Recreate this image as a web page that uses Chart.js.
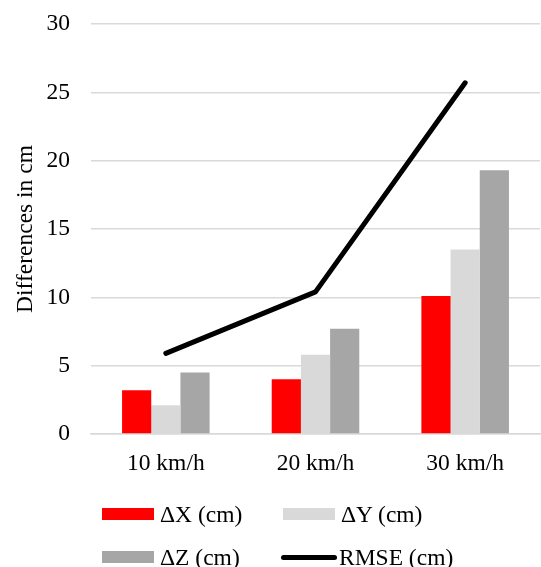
<!DOCTYPE html>
<html>
<head>
<meta charset="utf-8">
<script src="https://cdn.jsdelivr.net/npm/chart.js@4.4.1/dist/chart.umd.min.js"></script>
<style>
  html, body { margin: 0; padding: 0; background: #fff; }
  #wrap { position: relative; width: 541px; height: 567px; overflow: hidden; }
  #chart { position: absolute; left: 0; top: 0; }
  .leg { position: absolute; display: flex; align-items: center; height: 30px;
         font-family: "Liberation Serif", "Times New Roman", serif; font-size: 23.5px; color: #000; white-space: nowrap; }
  .leg .sw { width: 52px; height: 12px; margin-right: 6px; }
  .leg .ln { width: 56px; height: 5px; border-radius: 3px; margin-right: 2px; }
</style>
</head>
<body>
<div id="wrap">
  <canvas id="chart" width="541" height="567"></canvas>
</div>
<script>
// Data
const categories = ['10 km/h', '20 km/h', '30 km/h'];
const dX = [3.2, 4.0, 10.1];
const dY = [2.1, 5.8, 13.5];
const dZ = [4.5, 7.7, 19.3];
const rmse = [5.9, 10.4, 25.7];
const yTicks = [0, 5, 10, 15, 20, 25, 30];

const FONT = '"Liberation Serif", "Times New Roman", serif';

const chart = new Chart(document.getElementById('chart'), {
    data: {
        labels: categories,
        datasets: [
            { type: 'line', label: 'RMSE (cm)', data: rmse, borderColor: '#000000', backgroundColor: '#000000',
              borderWidth: 5, pointRadius: 0, borderCapStyle: 'round', borderJoinStyle: 'round', tension: 0, order: 0 },
            { type: 'bar', label: '\u0394X (cm)', data: dX, backgroundColor: '#ff0000', order: 1 },
            { type: 'bar', label: '\u0394Y (cm)', data: dY, backgroundColor: '#d9d9d9', order: 1 },
            { type: 'bar', label: '\u0394Z (cm)', data: dZ, backgroundColor: '#a6a6a6', order: 1 }
        ]
    },
    options: {
        responsive: false,
        animation: false,
        layout: { padding: { top: 24, right: 1, bottom: 77, left: 0 } },
        datasets: { bar: { barPercentage: 1, categoryPercentage: 0.585 } },
        plugins: { legend: { display: false }, tooltip: { enabled: false } },
        scales: {
            x: {
                grid: { display: false, drawTicks: false },
                border: { display: true, color: '#d9d9d9', width: 1.5 },
                ticks: { color: '#000', font: { family: FONT, size: 23.5 }, padding: 16, maxRotation: 0 },
                afterFit: (s) => { s.height = 56; s.paddingLeft = 0; s.paddingRight = 0; }
            },
            y: {
                min: 0, max: 30,
                afterBuildTicks: (s) => { s.ticks = yTicks.map(v => ({ value: v })); },
                grid: { color: '#d9d9d9', lineWidth: 1.5, drawTicks: false },
                border: { display: false },
                ticks: { color: '#000', font: { family: FONT, size: 23.5 }, padding: 21 },
                title: { display: true, text: 'Differences in cm', color: '#000',
                         font: { family: FONT, size: 23.5 }, padding: { top: 12, bottom: 0 } },
                afterFit: (s) => { s.width = 91; s.paddingTop = 0; s.paddingBottom = 0; }
            }
        }
    }
});

// legend, built from the chart's datasets, in Excel's 2x2 layout
const wrap = document.getElementById('wrap');
const slots = [
    { i: 1, x: 102, y: 499 },
    { i: 2, x: 283, y: 499 },
    { i: 3, x: 102, y: 542 },
    { i: 0, x: 281, y: 542 }
];
slots.forEach(sl => {
    const ds = chart.data.datasets[sl.i];
    const el = document.createElement('div');
    el.className = 'leg';
    el.style.left = sl.x + 'px';
    el.style.top = sl.y + 'px';
    const mark = document.createElement('span');
    mark.className = ds.type === 'line' ? 'ln' : 'sw';
    mark.style.background = ds.type === 'line' ? ds.borderColor : ds.backgroundColor;
    el.appendChild(mark);
    el.appendChild(document.createTextNode(ds.label));
    wrap.appendChild(el);
});
</script>
</body>
</html>
